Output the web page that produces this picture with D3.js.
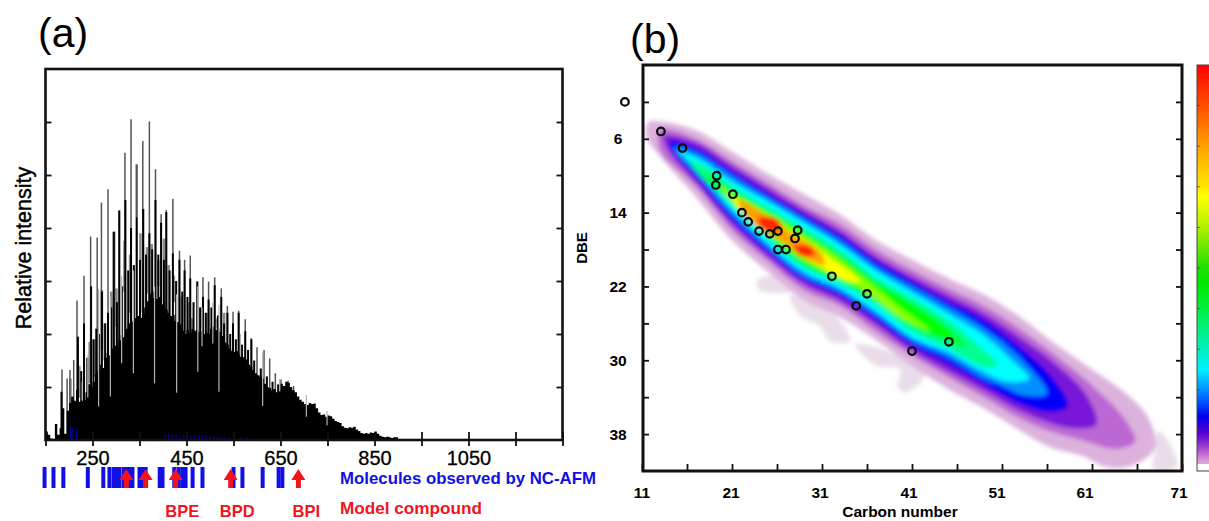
<!DOCTYPE html>
<html>
<head>
<meta charset="utf-8">
<title>Mass spectrum and DBE plot</title>
<script src="https://cdn.jsdelivr.net/npm/d3@7"></script>
<style>
    html, body { margin: 0; padding: 0; background: #fff; overflow: hidden; }
    text { font-family: "Liberation Sans", Arial, sans-serif; }
</style>
</head>
<body>
<svg id="chart" width="1209" height="521"></svg>
<script>
//================= panel (a) data =================//
var massTicks = [150, 250, 350, 450, 550, 650, 750, 850, 950, 1050, 1150, 1250];
var massLabels = [250, 450, 650, 850, 1050];
var intensityTicks = [1, 2, 3, 4, 5, 6];

// solid black body of the spectrum, one value per 5 mass units from 150
var bodyTop = [
    .16, .10, .03, .02, .30, .10, .22, .60, .12, .55, .70, .80, .74, .95, .72, .74,
    .76, .90, 1.05, 1.00, 1.10, 1.24, 1.30, 1.42, 1.36, 1.55, 1.64, 1.60, 1.72, 1.78, 1.76, 1.88,
    1.98, 1.94, 2.10, 2.20, 2.26, 2.22, 2.30, 2.34, 2.30, 2.38, 2.50, 2.62, 2.76, 2.80, 2.68, 2.66,
    2.70, 2.56, 2.60, 2.46, 2.40, 2.34, 2.36, 2.24, 2.22, 2.18, 2.06, 2.00, 2.08, 2.02, 2.10, 2.06,
    2.08, 2.04, 2.06, 2.00, 2.03, 2.00, 2.10, 2.14, 2.08, 2.10, 2.04, 1.96, 1.84, 1.80, 1.72, 1.68,
    1.66, 1.68, 1.62, 1.64, 1.56, 1.52, 1.42, 1.38, 1.32, 1.26, 1.22, 1.20, 1.16, 1.06, 1.00, .98,
    .94, .96, .90, .92, 1.06, 1.02, 1.10, 1.08, 1.00, .94, .90, .82, .76, .72, .68, .66,
    .70, .68, .69, .60, .52, .47, .48, .44, .46, .45, .40, .36, .34, .32, .26, .23,
    .22, .24, .23, .25, .20, .17, .13, .12, .13, .12, .14, .13, .16, .12, .08, .06,
    .05, .06, .05, .04, .05, .05, .03
];
var spikeMass = [185, 196, 202, 210, 217, 232, 246, 260, 269, 283, 297, 307, 319, 332, 344, 357, 371, 384, 396, 407,
    421, 435, 446, 458, 473, 485, 497, 510, 524, 537, 549, 561, 575, 588, 600, 615, 627, 639, 651, 666, 678];
var spikeTop = [1.33, 1.16, 1.32, 1.51, 2.63, 3.1, 3.84, 3.82, 4.48, 4.73, 3.93, 4.33, 5.42, 6.05, 5.2, 5.64, 6.01, 5.11, 4.26, 4.34,
    4.55, 3.57, 3.4, 3.48, 2.99, 3.07, 2.99, 3.07, 2.86, 2.53, 2.42, 2.44, 2.28, 1.92, 1.75, 1.70, 1.54, 1.26, 1.14, 1.12, 1.02];
var darkMass = [184, 207, 219, 232, 247, 258, 270, 283, 295, 307, 320, 332, 344, 358, 371, 384, 396, 407, 421, 435, 446, 458, 473, 485, 497, 510, 524, 537, 549, 561, 575, 588,
    226, 239, 252, 264, 277, 290, 302, 313, 326, 338, 351, 364, 377, 390, 402, 414, 428, 441, 452, 465, 479, 491, 503, 517, 530, 543, 555, 568, 581, 594, 608, 621, 633, 645];
var darkTop = [.91, .82, 1.95, 2.2, 2.9, 2.1, 2.8, 2.4, 3.93, 4.33, 4.53, 4.0, 4.2, 4.36, 3.9, 4.53, 4.1, 4.3, 3.52, 3.4, 3.2, 3.05, 2.99, 2.7, 2.65, 2.92, 2.7, 2.4, 2.2, 2.4, 2.05, 1.9,
    1.3, 1.55, 1.9, 2.0, 2.2, 2.5, 2.6, 2.9, 3.2, 3.3, 3.4, 3.5, 3.6, 3.5, 3.4, 3.2, 3.0, 2.8, 2.7, 2.6, 2.5, 2.4, 2.5, 2.35, 2.2, 2.0, 1.9, 1.8, 1.7, 1.5, 1.35, 1.2, 1.1, 1.05];
// light gaps that cut down into the black body
var gapMass = [228, 240, 263, 288, 312, 337, 382, 429, 474, 483, 506, 519, 565, 612, 648, 705, 749];
var gapLow = [.75, .8, .63, .82, 1.45, 1.26, 1.07, .89, 1.29, 1.77, 1.82, .91, 1.57, .64, .94, .44, .28];
var gapHigh = [1.1, 1.6, 2.85, 2.7, 3.1, 3.2, 2.9, 2.75, 2.9, 2.5, 2.6, 2.55, 2.0, 1.65, 1.15, .85, .55];
// wider grey shoulders next to the tall peaks
var shoulderMass = [203, 244, 270, 301, 318, 344, 366, 390, 423, 462, 480, 515, 222, 256, 276, 290, 330, 352, 376, 402, 412, 440, 455, 495, 530];
var shoulderLow = [.25, 1.07, 1.7, 2.14, 2.8, 4.2, 2.76, 2.9, 2.6, 2.1, 2.1, 2.1, .8, 1.2, 1.5, 1.7, 2.4, 2.4, 2.7, 2.6, 2.4, 2.0, 2.0, 2.0, 1.8];
var shoulderHigh = [1.16, 1.85, 2.83, 2.86, 3.76, 5.2, 3.64, 3.4, 3.1, 2.3, 2.5, 2.3, 1.4, 1.9, 2.2, 2.8, 3.5, 3.9, 3.7, 3.8, 3.3, 2.7, 2.6, 2.4, 2.4];
// dark blue traces at the foot of the spectrum
var traceMass = [203, 207, 216, 405, 412, 420, 428, 436, 444, 452, 460, 468, 476, 484, 492, 500, 508, 516, 524, 532, 540, 552, 565, 580, 600];
var traceHigh = [.25, .25, .22, .1, .12, .09, .1, .08, .1, .09, .08, .09, .08, .08, .07, .08, .07, .07, .06, .06, .05, .05, .05, .04, .04];

var moleculeMass = [148, 167, 188, 240, 273, 286, 295, 301, 307, 316, 322, 329, 335, 350, 356, 363, 393, 399, 424, 433, 441, 448, 463, 484, 550, 569, 612, 646, 654];
var compoundMass = [322, 363, 427, 544, 688];
var compoundNames = ["BPE", "BPD", "BPI"];
var compoundNameMass = [441, 558, 705];

//================= panel (b) data =================//
var carbonTicks = [11, 16, 21, 26, 31, 36, 41, 46, 51, 56, 61, 66, 71];
var carbonLabels = [11, 21, 31, 41, 51, 61, 71];
var dbeTicks = [2, 6, 10, 14, 18, 22, 26, 30, 34, 38];
var dbeLabels = [6, 14, 22, 30, 38];

// observed molecules, [carbon number, DBE]
var moleculeCarbon = [9.1, 13.1, 15.5, 19.3, 19.2, 21.1, 22.1, 22.8, 24.0, 25.2, 26.1, 28.3, 28.0, 26.1, 27.0, 32.1, 36.0, 34.8, 45.1, 41.0];
var moleculeDbe = [2.0, 5.2, 7.0, 10.0, 11.0, 12.0, 14.0, 15.0, 16.0, 16.3, 16.0, 15.9, 16.8, 18.0, 18.0, 20.9, 22.8, 24.1, 28.0, 29.0];

var levelColors = ["#dcb2dc", "#bc68d4", "#7a18d8", "#0000f8", "#0090ff", "#00ffff", "#00ff90", "#00ff00", "#90ff00", "#ffff00", "#ffa000", "#ff2800", "#ff2800"];
var levelOutlines = [
    [[11.7,4.2],[13,4.1],[17,5.1],[21,7.4],[25,9.8],[29,12],[33,14.2],[37,17],[41,19.1],[45,21.1],[49,22.9],[53,25.3],[57,28.3],[61,31],[65,33.8],[67.3,36.3],[68,39.5],[65.5,41.4],[62.7,41.6],[60,40.4],[56.3,39.4],[53,37.6],[49,35.2],[45,33.1],[41,30.6],[37,27.8],[33,25.3],[29,23.5],[25,20.4],[21,17],[17,12.3],[13,7.9],[11.5,5.8]],
    [[13,5],[17,6],[21,8.4],[25,10.8],[29,13.2],[33,15.2],[37,18],[41,20.2],[45,22.2],[49,24.1],[53,26.6],[57,29.5],[61,32.7],[64.5,36.2],[65.8,38.8],[63.6,39.6],[60,38.7],[56.3,37.7],[53,36.3],[49,34],[45,31.8],[41,29.5],[37,26.9],[33,24.1],[29,22.4],[25,19.3],[21,15.9],[17,11.2],[13,7.2]],
    [[13.4,5.7],[17,6.4],[21,8.9],[25,11.3],[29,13.7],[33,15.9],[37,18.7],[41,20.9],[45,22.9],[49,24.9],[53,27.5],[57,30.4],[60.4,33.8],[61.5,37],[59.1,37.4],[56.3,36.8],[53,35.5],[49,33.3],[45,31.2],[41,29],[37,26.2],[33,23.6],[29,21.8],[25,18.8],[21,15.3],[17,10.8],[13.9,7.2]],
    [[14.1,6.3],[17,7],[21,9.5],[25,11.9],[29,14.2],[33,16.4],[37,19.2],[41,21.4],[45,23.6],[49,25.6],[53,28.6],[56.6,31.9],[58.3,35],[56.3,35.6],[53,34.7],[49,32.6],[45,30.4],[41,28.4],[37,25.6],[33,23],[29,21.3],[25,18.3],[21,14.8],[17,10.2],[14.4,7.4]],
    [[14.6,6.9],[17,7.5],[21,10],[25,12.4],[29,14.7],[33,17],[37,19.8],[41,22],[45,24.2],[49,26.5],[53,29.7],[56,33.6],[53.5,33.8],[50.8,32.7],[49,32],[45,29.7],[41,27.9],[37,25.1],[33,22.6],[29,20.9],[25,17.8],[21,14.2],[17,9.7],[15,7.7]],
    [[15,7.3],[17,8],[21,10.6],[25,12.8],[29,15.1],[33,17.5],[37,20.3],[41,22.6],[45,24.9],[49,27.3],[52,29.9],[54,32],[51.5,32.3],[49,31.3],[45,29.1],[41,27.5],[37,24.7],[33,22.2],[29,20.4],[25,17.4],[21,13.7],[17,9.2],[15.4,7.7]],
    [[16.3,8.4],[18.8,9.4],[21,11.1],[25,13.4],[29,15.7],[33,18],[37,21],[41,23.2],[45,25.6],[48.2,28.2],[50.5,30.5],[49,30.7],[45,28.7],[41,26.9],[37,24],[33,21.7],[29,20],[25,16.8],[21,13.2],[17.4,9.9]],
    [[17.4,9.6],[21,11.6],[25,13.8],[29,16.1],[33,18.6],[37,21.5],[41,23.8],[44.9,26.4],[47,28.5],[45,27.9],[41,26.3],[37,23.5],[33,21.3],[29,19.6],[25,16.4],[21,12.6],[18.3,10.7]],
    [[19.7,11.2],[21.9,12.5],[25,14.2],[29,16.5],[33,19.1],[37,22.2],[39.7,24.4],[43,26.8],[39.1,25],[37,23.4],[33,20.7],[29,19.1],[25,16],[21.3,13.2]],
    [[21.3,12.4],[25,14.6],[29,17],[31.9,18.9],[35.2,21.5],[34.1,21.5],[31.3,20.2],[29,18.8],[25,15.7],[21.7,13.5]],
    [[21.7,12.6],[23.6,13.5],[27.4,16.1],[30.8,18.3],[31.3,19.7],[29.1,18.9],[26.3,17],[24.1,15.7],[22.4,14.2]],
    [[23.9,14.6],[25.8,14.6],[26.6,15.7],[25.2,16.1],[24.1,15.4]],
    [[27.8,17.6],[29.7,17.7],[30.2,18.5],[28.6,18.7]]
];
// faint smudges below the band and the last lobe at the far right
var smudgeOutlines = [
    [[23.8,21.3],[26.9,20.9],[28.6,22],[27.4,22.6],[24.1,22.4]],
    [[27.4,22.9],[29.1,23.5],[32.4,25.1],[34.1,27.9],[31.9,27.9],[30.8,26.3],[28.6,25.2]],
    [[34.7,28.3],[38,28.9],[42.4,31.6],[40.2,33.5],[39.4,32.7],[39.7,31],[36.9,30.5]],
    [[68.4,37.7],[69.3,38.5],[70.5,41.3],[69.8,41.9],[67.8,41.9],[68,40]]
];

// colour bar, position 0 = bottom, 1 = top
var barPosition = [0, .017, .018, .025, .045, .066, .094, .135, .168, .2, .25, .3, .4, .463, .5, .6, .676, .709, .8, .898, 1];
var barColor = ["#ffffff", "#ffffff", "#d8a8d8", "#d8a0d8", "#c060d0", "#9030d0", "#5000d0", "#0000f0", "#0050ff", "#0090ff", "#00f0ff", "#00f0c0", "#00f040", "#00e800", "#20e000", "#b0f000", "#ffff00", "#ffe000", "#ffa000", "#ff5000", "#ff0000"];
var barTicks = [1, 2, 3, 4, 5, 6, 7, 8, 9];

//================= shared =================//
var svg = d3.select("#chart");
var defs = svg.append("defs");
defs.append("filter").attr("id", "soft").append("feGaussianBlur").attr("stdDeviation", 0.35);
defs.append("filter").attr("id", "blur").attr("x", "-10%").attr("y", "-10%").attr("width", "120%").attr("height", "120%")
    .append("feGaussianBlur").attr("stdDeviation", 1.9);

var blue = "#1010e6";
var red = "#f0141e";

//================= panel (a) =================//
var a = { left: 45.5, right: 562.5, top: 69, bottom: 440 };
var x = d3.scaleLinear().domain([150, 1250]).range([a.left, a.right]);
var y = d3.scaleLinear().domain([0, 7]).range([a.bottom, a.top]);

var spec = svg.append("g").attr("filter", "url(#soft)");

function vlines(parent, xs, lows, highs, color, w) {
    parent.append("g").selectAll("line")
        .data(xs)
        .enter()
        .append("line")
        .attr("x1", d => x(d))
        .attr("x2", d => x(d))
        .attr("y1", (d, i) => y(lows[i]))
        .attr("y2", (d, i) => y(highs[i]))
        .attr("stroke", color)
        .attr("stroke-width", w);
}

vlines(spec, shoulderMass, shoulderLow, shoulderHigh, "#8c8c8c", 2.6);
vlines(spec, spikeMass, spikeMass.map(() => 0), spikeTop, "#555", 1.5);

var body = bodyTop.map((v, i) => [150 + i * 5, v]);
spec.append("path")
    .attr("d", d3.area().x(d => x(d[0])).y0(y(0)).y1(d => y(d[1])).curve(d3.curveStepAfter)(body))
    .attr("fill", "#000");

vlines(spec, darkMass, darkMass.map(() => 0), darkTop, "#000", 2);
vlines(spec, gapMass, gapLow, gapHigh, "#b4b4b4", 1.2);
vlines(spec, traceMass, traceMass.map(() => 0), traceHigh, "#00008c", 1.6);

// frame and ticks
svg.append("rect")
    .attr("x", a.left).attr("y", a.top)
    .attr("width", a.right - a.left).attr("height", a.bottom - a.top)
    .attr("fill", "none").attr("stroke", "#111").attr("stroke-width", 2.6);

var axisA = svg.append("g")
    .attr("transform", "translate(0," + a.bottom + ")")
    .call(d3.axisBottom(x)
        .tickValues(massTicks)
        .tickSize(6)
        .tickPadding(5)
        .tickFormat(d => massLabels.indexOf(d) >= 0 ? d : ""));
axisA.select(".domain").remove();
axisA.selectAll("line").attr("y1", -8).attr("stroke", "#111").attr("stroke-width", 1.8);
axisA.selectAll("text").attr("font-size", 20).attr("fill", "#000")
    .attr("stroke", "#000").attr("stroke-width", 0.3)
    .style("font-family", '"Liberation Sans", Arial, sans-serif');

[[a.left, d3.axisRight(y)], [a.right, d3.axisLeft(y)]].forEach(function (s) {
    var g = svg.append("g")
        .attr("transform", "translate(" + s[0] + ",0)")
        .call(s[1].tickValues(intensityTicks).tickSize(6).tickFormat(""));
    g.select(".domain").remove();
    g.selectAll("line").attr("stroke", "#111").attr("stroke-width", 1.8);
});

svg.append("text")
    .attr("transform", "translate(31,248) rotate(-90)")
    .attr("text-anchor", "middle")
    .attr("font-size", 21.5)
    .attr("stroke", "#000").attr("stroke-width", 0.45)
    .text("Relative intensity");

svg.append("text").attr("x", 38).attr("y", 47).attr("font-size", 41).text("(a)");

// molecule bars and model compound arrows
svg.append("g").selectAll("rect")
    .data(moleculeMass)
    .enter()
    .append("rect")
    .attr("x", d => x(d) - 2)
    .attr("y", 467)
    .attr("width", 4)
    .attr("height", 21)
    .attr("fill", blue);

svg.append("g").selectAll("path")
    .data(compoundMass)
    .enter()
    .append("path")
    .attr("d", d => {
        var p = d3.path();
        var cx = x(d);
        p.moveTo(cx, 469);
        p.lineTo(cx + 7, 480);
        p.lineTo(cx + 2.5, 480);
        p.lineTo(cx + 2.5, 488);
        p.lineTo(cx - 2.5, 488);
        p.lineTo(cx - 2.5, 480);
        p.lineTo(cx - 7, 480);
        p.closePath();
        return p.toString();
    })
    .attr("fill", red);

svg.append("g").selectAll("text")
    .data(compoundNames)
    .enter()
    .append("text")
    .attr("x", (d, i) => x(compoundNameMass[i]))
    .attr("y", 517)
    .attr("text-anchor", "middle")
    .attr("font-size", 16.5)
    .attr("font-weight", "bold")
    .attr("fill", red)
    .text(d => d);

svg.append("text").attr("x", 340).attr("y", 484)
    .attr("font-size", 16.5).attr("font-weight", "bold").attr("fill", blue)
    .attr("textLength", 256).attr("lengthAdjust", "spacingAndGlyphs")
    .text("Molecules observed by NC-AFM");
svg.append("text").attr("x", 340).attr("y", 514)
    .attr("font-size", 16.5).attr("font-weight", "bold").attr("fill", red)
    .attr("textLength", 142).attr("lengthAdjust", "spacingAndGlyphs")
    .text("Model compound");

//================= panel (b) =================//
var b = { left: 643, right: 1182, top: 65, bottom: 471 };
var cx = d3.scaleLinear().domain([11, 71]).range([642, 1182]);
var cy = d3.scaleLinear().domain([-2, 42]).range([65, 471]);
// the printed carbon labels sit a little left of their ticks
var cxLabel = d3.scaleLinear().domain([11, 41, 61, 71]).range([642, 909, 1085, 1179]);

defs.append("clipPath").attr("id", "plotB").append("rect")
    .attr("x", b.left).attr("y", b.top)
    .attr("width", b.right - b.left).attr("height", b.bottom - b.top);

var outline = d3.line().x(d => cx(d[0])).y(d => cy(d[1])).curve(d3.curveCatmullRomClosed.alpha(0.5));

var map = svg.append("g").attr("clip-path", "url(#plotB)").append("g").attr("filter", "url(#blur)");
map.append("g").selectAll("path")
    .data(smudgeOutlines)
    .enter()
    .append("path")
    .attr("d", outline)
    .attr("fill", "#e9dde9");
map.append("g").selectAll("path")
    .data(levelOutlines)
    .enter()
    .append("path")
    .attr("d", outline)
    .attr("fill", (d, i) => levelColors[i]);

svg.append("rect")
    .attr("x", b.left).attr("y", b.top)
    .attr("width", b.right - b.left).attr("height", b.bottom - b.top)
    .attr("fill", "none").attr("stroke", "#111").attr("stroke-width", 3);

var axisC = svg.append("g")
    .attr("transform", "translate(0," + b.bottom + ")")
    .call(d3.axisTop(cx).tickValues(carbonTicks).tickSize(7).tickFormat(""));
axisC.select(".domain").remove();
axisC.selectAll("line").attr("stroke", "#111").attr("stroke-width", 1.8);

svg.append("g").selectAll("text")
    .data(carbonLabels)
    .enter()
    .append("text")
    .attr("x", d => cxLabel(d))
    .attr("y", 498)
    .attr("text-anchor", "middle")
    .attr("font-size", 15.5)
    .attr("font-weight", "bold")
    .text(d => d);

[[b.left, d3.axisRight(cy)], [b.right, d3.axisLeft(cy)]].forEach(function (s) {
    var g = svg.append("g")
        .attr("transform", "translate(" + s[0] + ",0)")
        .call(s[1].tickValues(dbeTicks).tickSize(6).tickFormat(""));
    g.select(".domain").remove();
    g.selectAll("line").attr("stroke", "#111").attr("stroke-width", 1.8);
});

svg.append("g").selectAll("text")
    .data(dbeLabels)
    .enter()
    .append("text")
    .attr("x", 618)
    .attr("y", d => cy(d) + 5.5)
    .attr("text-anchor", "middle")
    .attr("font-size", 15.5)
    .attr("font-weight", "bold")
    .text(d => d);

svg.append("g").selectAll("circle")
    .data(moleculeCarbon)
    .enter()
    .append("circle")
    .attr("cx", d => cx(d))
    .attr("cy", (d, i) => cy(moleculeDbe[i]))
    .attr("r", 3.8)
    .attr("fill", "none")
    .attr("stroke", "#0a0a0a")
    .attr("stroke-width", 2.2);

svg.append("text")
    .attr("transform", "translate(587,248) rotate(-90)")
    .attr("text-anchor", "middle")
    .attr("font-size", 15)
    .attr("font-weight", "bold")
    .text("DBE");
svg.append("text").attr("x", 900).attr("y", 517)
    .attr("text-anchor", "middle")
    .attr("font-size", 15.5)
    .attr("font-weight", "bold")
    .text("Carbon number");
svg.append("text").attr("x", 630).attr("y", 53).attr("font-size", 41).text("(b)");

//================= colour bar =================//
var barY = d3.scaleLinear().domain([0, 1]).range([471, 65]);
var barTickY = d3.scaleLinear().domain([0, 10]).range([471, 65]);
var grad = defs.append("linearGradient").attr("id", "bar")
    .attr("x1", 0).attr("x2", 0).attr("y1", 1).attr("y2", 0);
grad.selectAll("stop")
    .data(barPosition)
    .enter()
    .append("stop")
    .attr("offset", d => d)
    .attr("stop-color", (d, i) => barColor[i]);
svg.append("rect")
    .attr("x", 1197).attr("y", barY(1))
    .attr("width", 14).attr("height", barY(0) - barY(1))
    .attr("fill", "url(#bar)")
    .attr("stroke", "#444").attr("stroke-width", 1);
svg.append("g").selectAll("line")
    .data(barTicks)
    .enter()
    .append("line")
    .attr("x1", 1197).attr("x2", 1200)
    .attr("y1", d => barTickY(d)).attr("y2", d => barTickY(d))
    .attr("stroke", "#444").attr("stroke-width", 0.8);
</script>
</body>
</html>
